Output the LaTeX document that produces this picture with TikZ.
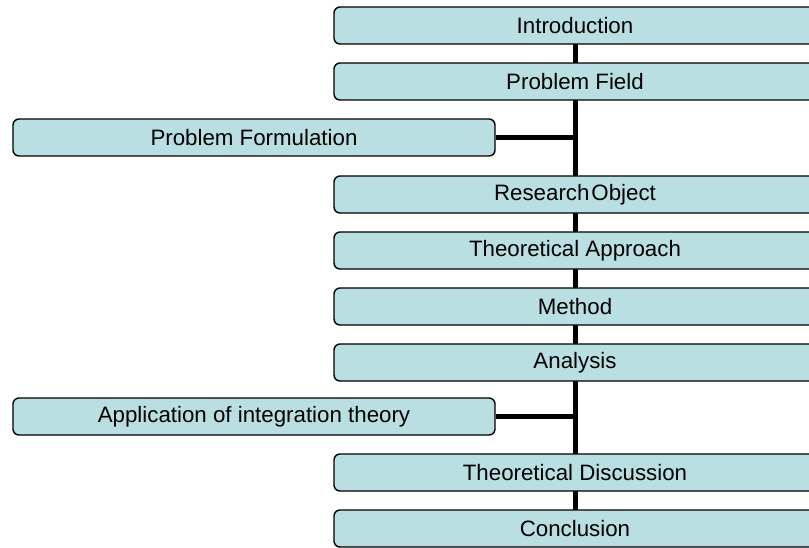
\documentclass[tikz,border=0pt]{standalone}
\usepackage{fontspec}
\setmainfont{Liberation Sans}
\definecolor{boxfill}{RGB}{185,223,226}
\begin{document}
\begin{tikzpicture}[x=1pt,y=-1pt,
  box/.style={draw=black, line width=1.4pt, fill=boxfill, rounded corners=6pt,
    minimum width=482pt, minimum height=37pt, inner sep=0pt,
    font=\fontsize{22.3}{26}\selectfont},
  spine/.style={line width=5pt, draw=black}]
\useasboundingbox (0,0) rectangle (809,547);
\clip (0,0) rectangle (809,547);
\coordinate (top) at (575,25.5);
\coordinate (bot) at (575,528.5);
\coordinate (j1) at (575,137.5);
\coordinate (j2) at (575,416.5);
\draw[spine] (top) -- (bot);
\node[box] (intro) at (575,25.5) {Introduction};
\node[box] (pfield) at (575,81.5) {Problem Field};
\node[box] (robj) at (575,194.5) {Research\kern2pt Object};
\node[box] (tappr) at (575,250.5) {Theoretical Approach};
\node[box] (meth) at (575,306.5) {Method};
\node[box] (anal) at (575,362.5) {Analysis};
\node[box] (tdisc) at (575,472.5) {Theoretical Discussion};
\node[box] (concl) at (575,528.5) {Conclusion};
\node[box] (pform) at (254,137.5) {Problem Formulation};
\node[box] (appl) at (254,416.5) {Application of integration theory};
\begin{scope}[on background layer/.try]
\end{scope}
\draw[spine] (pform.east) -- (j1);
\draw[spine] (appl.east) -- (j2);
\end{tikzpicture}
\end{document}
